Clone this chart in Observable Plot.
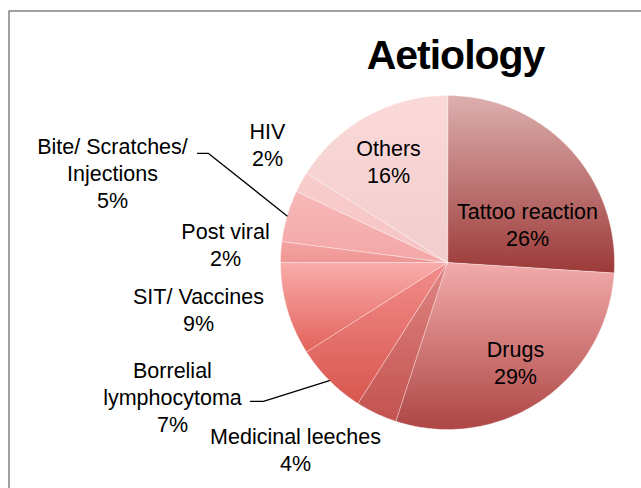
<!DOCTYPE html>
<html>
<head>
<meta charset="utf-8">
<script src="https://cdn.jsdelivr.net/npm/d3@7"></script>
<script src="https://cdn.jsdelivr.net/npm/@observablehq/plot@0.6"></script>
<style>
  html, body { margin: 0; padding: 0; background: #fff; }
  #chart svg { display: block; }
</style>
</head>
<body>
<div id="chart"></div>
<script>
// ---- data ----
const categories = ["Tattoo reaction", "Drugs", "Medicinal leeches", "Borrelial\nlymphocytoma",
  "SIT/ Vaccines", "Post viral", "Bite/ Scratches/\nInjections", "HIV", "Others"];
const values = [26, 29, 4, 7, 9, 2, 5, 2, 16];
const title = "Aetiology";

// ---- styles ----
const gradTop = ["#ddafaf", "#f2abab", "#e08684", "#f28d8b", "#f9acaa", "#f4a3a2", "#f7b9b9", "#f9cdcd", "#fcd9d9"];
const gradBottom = ["#9c3a38", "#ad4644", "#c2524f", "#d8574f", "#e3625b", "#ee9795", "#f3a6a5", "#f6c3c3", "#f1cdcd"];

// ---- layout (pie units: centre 0,0, radius 1) ----
const labelPos = {
  "Tattoo reaction": [0.479, 0.373],
  "Drugs": [0.407, -0.453],
  "Medicinal leeches": [-0.910, -0.974],
  "Borrelial\nlymphocytoma": [-1.647, -0.579],
  "SIT/ Vaccines": [-1.491, -0.136],
  "Post viral": [-1.329, 0.253],
  "Bite/ Scratches/\nInjections": [-2.006, 0.762],
  "HIV": [-1.078, 0.852],
  "Others": [-0.353, 0.750]
};
const leaderElbows = {
  "Bite/ Scratches/\nInjections": [[-1.497, 0.653], [-1.431, 0.653]],
  "Borrelial\nlymphocytoma": [[-1.180, -0.832], [-1.102, -0.832]]
};

const arcs = d3.pie().sort(null).value(d => d)(values);
const slices = arcs.map((a, i) => {
  const n = Math.max(2, Math.ceil((a.endAngle - a.startAngle) / (Math.PI / 180)));
  const pts = [{x: 0, y: 0}];
  for (let k = 0; k <= n; k++) {
    const t = a.startAngle + (a.endAngle - a.startAngle) * k / n;
    pts.push({x: Math.sin(t), y: Math.cos(t)});
  }
  return pts;
});
const labelData = categories.map((c, i) => ({
  text: c + "\n" + values[i] + "%",
  x: labelPos[c][0],
  y: labelPos[c][1]
}));
const leaders = [];
categories.forEach((c, i) => {
  if (!leaderElbows[c]) return;
  const mid = (arcs[i].startAngle + arcs[i].endAngle) / 2;
  const pts = [...leaderElbows[c].map(([x, y]) => ({x, y})), {x: Math.sin(mid), y: Math.cos(mid)}];
  pts.forEach(p => leaders.push({...p, key: c}));
});

const font = "Liberation Sans, Arial, sans-serif";
const cx = 447, cy = 262, r = 167;

const plot = Plot.plot({
  width: 641,
  height: 488,
  margin: 0,
  x: {domain: [-1, 1], range: [cx - r, cx + r], axis: null},
  y: {domain: [-1, 1], range: [cy + r, cy - r], axis: null},
  style: {fontFamily: font, background: "#fff"},
  marks: [
    Plot.frame({stroke: "#707070", strokeWidth: 1.3, insetLeft: 8.5, insetTop: 10.5, insetRight: -5, insetBottom: -5}),
    ...slices.map((pts, i) => Plot.line(pts, {
      x: "x", y: "y", curve: "linear-closed",
      fill: `url(#slice-grad-${i})`,
      stroke: "#ffffff", strokeOpacity: 0.55, strokeWidth: 0.7
    })),
    Plot.line(leaders, {x: "x", y: "y", z: "key", stroke: "#000", strokeWidth: 1.3, curve: "linear"}),
    Plot.text(labelData, {
      x: "x", y: "y", text: "text", fontSize: 21.5, fontFamily: font,
      lineAnchor: "top", lineHeight: 1.256, textAnchor: "middle", fill: "#000"
    }),
    Plot.text([title], {
      x: () => 0.048, y: () => 1.336, text: d => d, fontSize: 41, fontWeight: "bold",
      fontFamily: font, lineAnchor: "top", textAnchor: "middle", fill: "#000"
    })
  ]
});

// gradient definitions (vertical, per-slice bounding box)
const defs = d3.select(plot).insert("defs", ":first-child");
values.forEach((v, i) => {
  const g = defs.append("linearGradient").attr("id", `slice-grad-${i}`)
    .attr("x1", 0).attr("y1", 0).attr("x2", 0).attr("y2", 1);
  g.append("stop").attr("offset", 0).attr("stop-color", gradTop[i]);
  g.append("stop").attr("offset", 1).attr("stop-color", gradBottom[i]);
});
d3.select(plot).selectAll("text").filter(function(){ return this.textContent === title; })
  .style("letter-spacing", "-1px");

document.getElementById("chart").appendChild(plot);
</script>
</body>
</html>
